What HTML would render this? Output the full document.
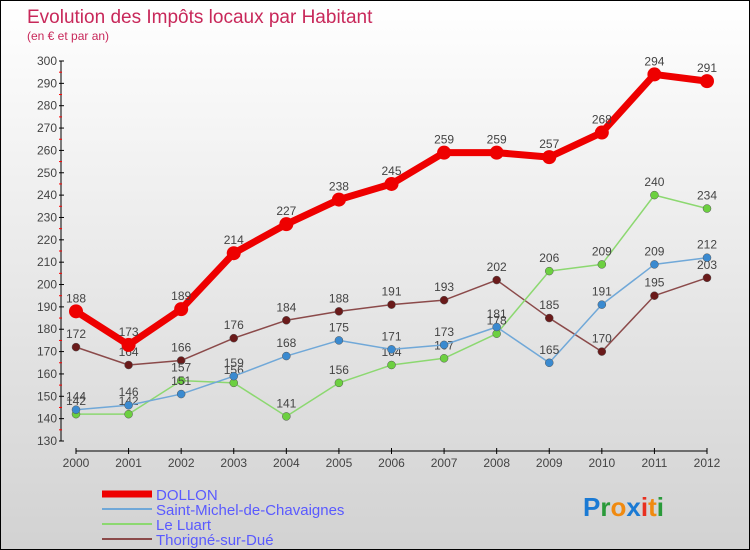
<!DOCTYPE html>
<html><head><meta charset="utf-8"><style>
body{margin:0;}
#c{width:750px;height:550px;position:relative;box-sizing:border-box;border:1px solid #000;background:linear-gradient(#fff,#d2d2d2);font-family:"Liberation Sans",sans-serif;overflow:hidden}
svg text{font-family:"Liberation Sans",sans-serif}
</style></head><body>
<div id="c">
<svg id="s" width="750" height="550">
<text x="26" y="22" font-size="19" fill="#c8285a">Evolution des Impôts locaux par Habitant</text>
<text x="26" y="39" font-size="12" fill="#c8285a">(en € et par an)</text>
<g id="logo"><text x="582" y="515" font-size="26" font-weight="bold"><tspan fill="#1a7ad4">P</tspan><tspan fill="#2a9a3a">r</tspan><tspan fill="#f08a10">o</tspan><tspan fill="#1a7ad4">x</tspan><tspan fill="#e83020">i</tspan><tspan fill="#f08a10">t</tspan><tspan fill="#2a9a3a">i</tspan></text></g>
</svg>
</div>
<script>
const years=["2000","2001","2002","2003","2004","2005","2006","2007","2008","2009","2010","2011","2012"];
const dollon=[188,173,189,214,227,238,245,259,259,257,268,294,291];
const stMichel=[144,146,151,159,168,175,171,173,181,165,191,209,212];
const leLuart=[142,142,157,156,141,156,164,167,178,206,209,240,234];
const thorigne=[172,164,166,176,184,188,191,193,202,185,170,195,203];
const yTicks=[130,140,150,160,170,180,190,200,210,220,230,240,250,260,270,280,290,300];
const NS="http://www.w3.org/2000/svg";
const svg=document.getElementById('s');
const x=i=>75+i*(706-75)/(years.length-1);
const y=v=>440-(v-130)*(380/170);
function mk(t,a,p){const e=document.createElementNS(NS,t);for(const k in a)e.setAttribute(k,a[k]);(p||svg).appendChild(e);return e;}
let ax=mk('line',{x1:60,y1:60,x2:60,y2:440,stroke:'#000','stroke-width':1});


let bx=mk('line',{x1:75,y1:450,x2:706,y2:450,stroke:'#000','stroke-width':1});


yTicks.forEach((v,i)=>{
  mk('line',{x1:58,y1:y(v),x2:63,y2:y(v),stroke:'#000'});
  if(i<yTicks.length-1)mk('line',{x1:58,y1:y(v+5),x2:61,y2:y(v+5),stroke:'#f00'});
  const t=mk('text',{x:56,y:y(v)+4,'font-size':12,fill:'#444','text-anchor':'end'});
  t.textContent=v;
  
  
});
years.forEach((yr,i)=>{
  mk('line',{x1:x(i),y1:447,x2:x(i),y2:453,stroke:'#000'});
  const t=mk('text',{x:x(i),y:466,'font-size':12,fill:'#444','text-anchor':'middle'});
  t.textContent=yr;
  
  
});
const series=[
 {name:'thorigne',data:thorigne,color:'#6a1a1a',line:'#8b4a4a',w:1.5,r:4},
 {name:'le-luart',data:leLuart,color:'#6cd040',line:'#8cd870',w:1.5,r:4},
 {name:'st-michel',data:stMichel,color:'#3a8ad0',line:'#70a8d8',w:1.5,r:4},
 {name:'dollon',data:dollon,color:'#e00',line:'#e00',w:7,r:7}
];
series.forEach(s=>{
  const g=mk('g',{});
  
  
  const p=mk('polyline',{points:s.data.map((v,i)=>x(i)+','+y(v)).join(' '),fill:'none',stroke:s.line,'stroke-width':s.w,'stroke-linejoin':'round'},g);
  
  
  s.data.forEach((v,i)=>{
    const c=mk('circle',{cx:x(i),cy:y(v),r:s.r,fill:s.color,stroke:s.r>5?'none':'#555','stroke-width':0.5},g);
    
    
    const t=mk('text',{x:x(i),y:y(v)-9,'font-size':12,fill:'#444','text-anchor':'middle'},g);
    t.textContent=v;
    
    
  });
});
const leg=[['DOLLON','#e00',7],['Saint-Michel-de-Chavaignes','#70a8d8',2],['Le Luart','#8cd870',2],['Thorigné-sur-Dué','#8b4a4a',2]];
leg.forEach((l,i)=>{
  const yy=493+i*15;
  const ln=mk('line',{x1:101,y1:yy,x2:151,y2:yy,stroke:l[1],'stroke-width':l[2]});
  
  
  const t=mk('text',{x:155,y:yy+6,'font-size':15,fill:'#5a5aff'});
  t.textContent=l[0];
  
  
});
</script>
</body></html>
